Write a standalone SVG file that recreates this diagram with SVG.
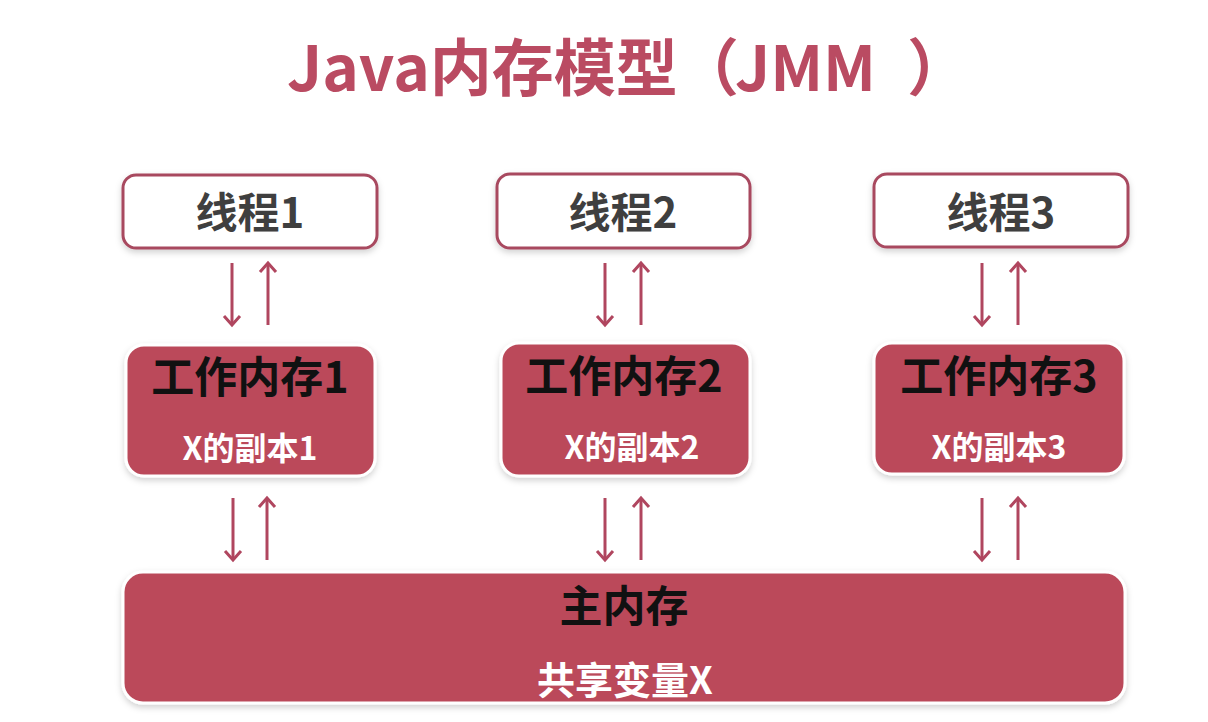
<svg xmlns="http://www.w3.org/2000/svg" width="1208" height="722" viewBox="0 0 1208 722">
<defs>
<style>
.title{font-family:"Noto Sans CJK SC","Liberation Sans",sans-serif;font-weight:bold;font-size:62px;fill:#ba4b62;}
.thread rect{fill:#ffffff;stroke:#a8485f;stroke-width:3;}
.thread text{font-family:"Noto Sans CJK SC","Liberation Sans",sans-serif;font-weight:bold;font-size:42px;fill:#3f3f3f;text-anchor:middle;}
.mem rect{fill:#bb4a5a;stroke:#ffffff;stroke-width:3;}
.mem .h{font-family:"Noto Sans CJK SC","Liberation Sans",sans-serif;font-weight:bold;font-size:43px;fill:#111111;text-anchor:middle;}
.mem .s{font-family:"Noto Sans CJK SC","Liberation Sans",sans-serif;font-weight:bold;font-size:32px;fill:#ffffff;text-anchor:middle;}
.mem .s2{font-family:"Noto Sans CJK SC","Liberation Sans",sans-serif;font-weight:bold;font-size:38px;fill:#ffffff;text-anchor:middle;}
.conn path{stroke:#b0465f;stroke-width:3;fill:none;}
</style>
<marker id="ah" viewBox="0 0 20 20" refX="10" refY="10" markerWidth="20" markerHeight="20" markerUnits="userSpaceOnUse" orient="auto">
<path d="M1,2 L10,10 L1,18" fill="none" stroke="#b0465f" stroke-width="3" stroke-linejoin="miter"/>
</marker>
<filter id="sh" x="-5%" y="-10%" width="110%" height="125%">
<feDropShadow dx="0" dy="3" stdDeviation="3" flood-color="#000000" flood-opacity="0.18"/>
</filter>
</defs>
<rect width="1208" height="722" fill="#ffffff"/>
<text class="title" y="91"><tspan x="287">Java内存模型</tspan><tspan x="677">（</tspan><tspan x="735">JMM</tspan><tspan x="907">）</tspan></text>

<g class="conn">
<path d="M232,263 L232,325" marker-end="url(#ah)"/>
<path d="M268,325 L268,263" marker-end="url(#ah)"/>
<path d="M605,263 L605,325" marker-end="url(#ah)"/>
<path d="M641,325 L641,263" marker-end="url(#ah)"/>
<path d="M982,263 L982,325" marker-end="url(#ah)"/>
<path d="M1018,325 L1018,263" marker-end="url(#ah)"/>
<path d="M233,498 L233,560" marker-end="url(#ah)"/>
<path d="M267,560 L267,498" marker-end="url(#ah)"/>
<path d="M605,498 L605,560" marker-end="url(#ah)"/>
<path d="M641,560 L641,498" marker-end="url(#ah)"/>
<path d="M982,498 L982,560" marker-end="url(#ah)"/>
<path d="M1018,560 L1018,498" marker-end="url(#ah)"/>
</g>

<g id="thread1" class="thread"><rect x="123" y="175" width="254" height="73" rx="13" filter="url(#sh)"/><text x="250" y="228">线程1</text></g>
<g id="thread2" class="thread"><rect x="497" y="174" width="253" height="74" rx="13" filter="url(#sh)"/><text x="623" y="228">线程2</text></g>
<g id="thread3" class="thread"><rect x="874" y="174" width="254" height="73" rx="13" filter="url(#sh)"/><text x="1001" y="228">线程3</text></g>

<g id="work1" class="mem"><rect x="126" y="345" width="249" height="131" rx="18" filter="url(#sh)"/><text class="h" x="250" y="393">工作内存1</text><text class="s" x="250" y="460">X的副本1</text></g>
<g id="work2" class="mem"><rect x="501" y="343" width="249" height="133" rx="18" filter="url(#sh)"/><text class="h" x="624" y="392">工作内存2</text><text class="s" x="632" y="459">X的副本2</text></g>
<g id="work3" class="mem"><rect x="874" y="343" width="250" height="131" rx="18" filter="url(#sh)"/><text class="h" x="999" y="392">工作内存3</text><text class="s" x="999" y="459">X的副本3</text></g>

<g id="main" class="mem"><rect x="123" y="572" width="1002" height="131" rx="20" filter="url(#sh)"/><text class="h" x="624" y="622">主内存</text><text class="s2" x="625" y="694">共享变量X</text></g>
</svg>
